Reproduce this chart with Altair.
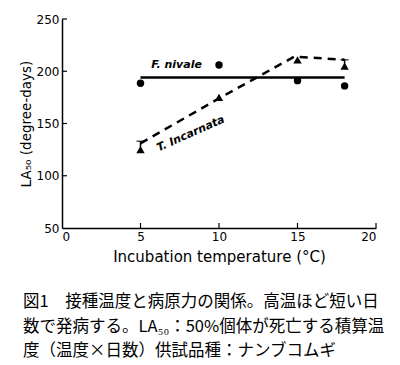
import altair as alt
import pandas as pd

# ---- data ----
temps = [5, 10, 15, 18]
f_nivale = [188.5, 206, 191, 186]
t_incarnata = [125, 175, 211, 205]

fn_fit_x = [5, 18]
fn_fit_y = [194, 194]
ti_fit_x = [5, 10, 14.8, 18]
ti_fit_y = [131, 174, 214, 211]

err_x = [5, 18]
err_lo = [125, 205]
err_hi = [133, 211]

x_ticks = [0, 5, 10, 15, 20]
y_ticks = [50, 100, 150, 200, 250]

caption = [
    "図1　接種温度と病原力の関係。高温ほど短い日",
    "数で発病する。LA₅₀：50%個体が死亡する積算温",
    "度（温度×日数）供試品種：ナンブコムギ",
]

W, H = 314, 209
FONT = "DejaVu Sans"

pts = pd.DataFrame({"t": temps, "fn": f_nivale, "ti": t_incarnata})
fn_fit = pd.DataFrame({"t": fn_fit_x, "v": fn_fit_y})
ti_fit = pd.DataFrame({"t": ti_fit_x, "v": ti_fit_y})
err = pd.DataFrame({"t": err_x, "lo": err_lo, "hi": err_hi})
xt = pd.DataFrame({"t": x_ticks[1:]})
yt = pd.DataFrame({"v": y_ticks[1:]})

xs = alt.Scale(domain=[0, 20], nice=False)
ys = alt.Scale(domain=[50, 250], nice=False)

X = alt.X("t:Q", scale=xs, axis=alt.Axis(values=x_ticks, title="Incubation temperature (°C)", ticks=False,
                                         titlePadding=7, titleFontSize=15))
Y = alt.Y("v:Q", scale=ys, axis=alt.Axis(values=y_ticks, title="LA₅₀ (degree-days)", ticks=False, titlePadding=3))

fn_line = alt.Chart(fn_fit).mark_line(color="black", strokeWidth=2.5).encode(x=X, y=Y)
ti_line = alt.Chart(ti_fit).mark_line(color="black", strokeWidth=2.5, strokeDash=[8, 6]).encode(x="t:Q", y="v:Q")

fn_pts = alt.Chart(pts).mark_point(shape="circle", filled=True, color="black", opacity=1, size=55).encode(
    x="t:Q", y=alt.Y("fn:Q"))
ti_pts = alt.Chart(pts).mark_point(shape="triangle-up", filled=True, color="black", opacity=1, size=70).encode(
    x="t:Q", y=alt.Y("ti:Q"))

err_rule = alt.Chart(err).mark_rule(color="black", strokeWidth=1.5).encode(x="t:Q", y="lo:Q", y2="hi:Q")
err_cap = alt.Chart(err).mark_tick(color="black", orient="horizontal", size=8, thickness=1.5).encode(x="t:Q", y="hi:Q")

xtick = alt.Chart(xt).mark_rule(color="black", strokeWidth=1.2).encode(
    x="t:Q", y=alt.value(H), y2=alt.value(H - 5))
ytick = alt.Chart(yt).mark_rule(color="black", strokeWidth=1.2).encode(
    y="v:Q", x=alt.value(0), x2=alt.value(5))

lab = pd.DataFrame({"t": [7.3], "v": [206], "s": ["F. nivale"]})
lab2 = pd.DataFrame({"t": [8.2], "v": [140], "s": ["T. Incarnata"]})
fn_text = alt.Chart(lab).mark_text(font=FONT, fontSize=11, fontStyle="italic", fontWeight="bold", color="black").encode(
    x="t:Q", y="v:Q", text="s:N")
ti_text = alt.Chart(lab2).mark_text(font=FONT, fontSize=11, fontStyle="italic", fontWeight="bold", color="black", angle=336).encode(
    x="t:Q", y="v:Q", text="s:N")

chart = alt.layer(fn_line, ti_line, fn_pts, ti_pts, err_rule, err_cap, xtick, ytick, fn_text, ti_text).properties(
    width=W, height=H,
    autosize=alt.AutoSizeParams(type="none"),
    padding={"left": 54, "top": 11, "right": 16, "bottom": 134},
    title=alt.TitleParams(
        text=caption, orient="bottom", anchor="start", frame="bounds",
        font="Noto Sans CJK JP", fontSize=16.5, fontWeight="normal", color="black",
        lineHeight=24.5, offset=30, dx=4,
    ),
).configure_view(stroke=None).configure_axis(
    domainColor="black", domainWidth=1.5, grid=False,
    labelFont=FONT, labelFontSize=12, labelColor="black", labelPadding=3,
    titleFont=FONT, titleFontSize=13.5, titleFontWeight="normal", titleColor="black",
)

chart.save("out.html", embed_options={"renderer": "svg", "actions": False})
